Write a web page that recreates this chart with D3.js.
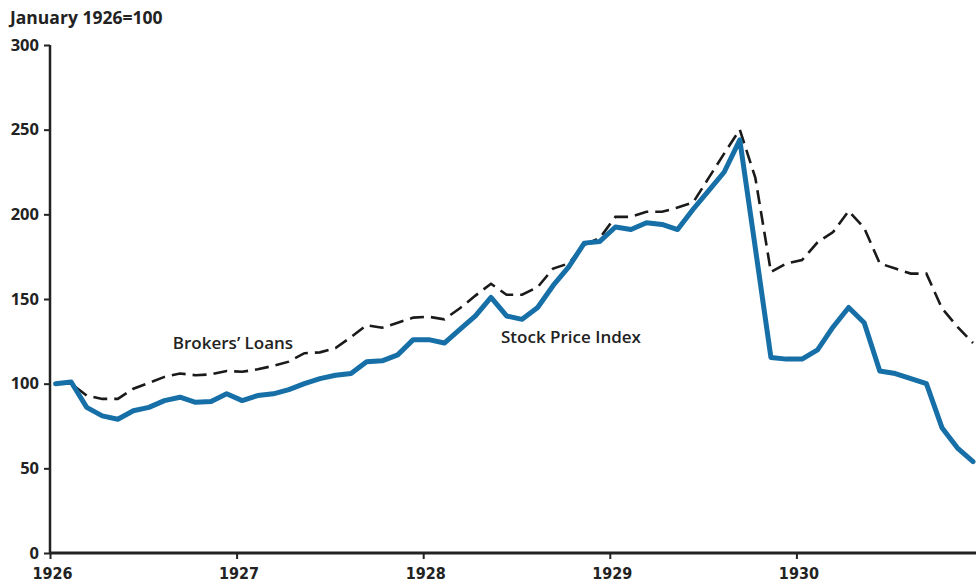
<!DOCTYPE html>
<html>
<head>
<meta charset="utf-8">
<script src="https://cdn.jsdelivr.net/npm/d3@7"></script>
<style>
  body { margin: 0; background: #fff; }
  svg { display: block; }
</style>
</head>
<body>
<svg id="chart"></svg>
<script>
// monthly values, January 1926 = 100, Jan 1926 .. Dec 1930
var stockIndex = [
  100, 101, 86, 81, 79, 84, 86, 90, 92, 89, 89.5, 94,
  90, 93, 94, 96.5, 100, 103, 105, 106, 113, 113.5, 117, 126,
  126, 124, 132, 140, 151, 140, 138, 145, 158, 169, 183, 184,
  192.5, 191, 195, 194, 191, 203, 214, 225, 244, 180, 115.5, 114.5,
  114.5, 120, 133.5, 145, 136, 107.5, 106, 103, 100, 74, 62, 54
]
var brokersLoans = [
  100, 100, 93, 91, 91, 97, 100.5, 104, 106, 105, 105.5, 107.5,
  107, 108.5, 110.5, 113, 118, 118.5, 121, 127.5, 134.5, 133, 136, 139,
  139.5, 138, 144.5, 152, 159, 152.5, 152.5, 157, 168, 171, 182, 186,
  198.5, 198.5, 201.5, 201.5, 204, 207, 221.5, 236, 250, 221.5, 166, 171,
  173, 183.5, 189.5, 202, 192, 171, 168, 165, 165, 144.5, 133.5, 124
]
var yearTicks = [1926, 1927, 1928, 1929, 1930]
var yTicks = [0, 50, 100, 150, 200, 250, 300]

var W = 976, H = 585
var margin = {top: 45, left: 50, bottom: 32}
var h = H - margin.top - margin.bottom

var svg = d3.select('#chart')
  .attr('width', W)
  .attr('height', H)

// time in decimal years, points sit a little inside each month
const x_scale = d3.scaleLinear()
  .domain([1926, 1931])
  .range([margin.left, margin.left + 5 * 186.6])

const y_scale = d3.scaleLinear()
  .domain([0, 300])
  .range([margin.top + h, margin.top])

function t(i) { return 1926 + (i + 0.36) / 12 }

// y axis
var yAxis = svg.append('g')
  .attr('transform', `translate(${margin.left},0)`)
  .call(d3.axisLeft(y_scale).tickValues(yTicks).tickSize(6).tickPadding(5))
yAxis.select('.domain').attr('stroke', '#222').attr('stroke-width', 2.5)
  .attr('d', `M0,${y_scale(300)}V${y_scale(0)}`)
yAxis.selectAll('.tick line').attr('stroke', '#222').attr('stroke-width', 2)
yAxis.selectAll('.tick text')
  .attr('font-family', 'Open Sans')
  .attr('font-weight', 700)
  .attr('font-size', 16.5)
  .attr('fill', '#222')

// x axis
var xAxis = svg.append('g')
  .attr('transform', `translate(0,${y_scale(0)})`)
  .call(d3.axisBottom(x_scale).tickValues(yearTicks).tickFormat(d3.format('d')).tickSize(6).tickPadding(9))
xAxis.select('.domain').attr('stroke', '#222').attr('stroke-width', 3)
  .attr('d', `M${margin.left},0H${W}`)
xAxis.selectAll('.tick line').attr('stroke', '#222').attr('stroke-width', 2)
xAxis.selectAll('.tick text')
  .attr('dx', 2)
  .attr('font-family', 'DejaVu Sans Condensed, DejaVu Sans, sans-serif')
  .attr('font-stretch', 'condensed')
  .attr('font-weight', 'bold')
  .attr('font-size', 16)
  .attr('fill', '#222')

svg.append('text')
  .attr('x', 10)
  .attr('y', 24)
  .attr('font-family', 'Open Sans')
  .attr('font-weight', 700)
  .attr('font-size', 17.5)
  .attr('fill', '#222')
  .text('January 1926=100')

var line = d3.line()
  .x((d, i) => x_scale(t(i)))
  .y(d => y_scale(d))

svg.append('path')
  .datum(brokersLoans)
  .attr('d', line)
  .attr('fill', 'none')
  .attr('stroke', '#1a1a1a')
  .attr('stroke-width', 2.6)
  .attr('stroke-dasharray', '14,7')

svg.append('path')
  .datum(stockIndex)
  .attr('d', line)
  .attr('fill', 'none')
  .attr('stroke', '#166fa6')
  .attr('stroke-width', 5)
  .attr('stroke-linejoin', 'round')
  .attr('stroke-linecap', 'round')

// series labels
svg.append('text')
  .attr('x', 233).attr('y', 349)
  .attr('text-anchor', 'middle')
  .attr('font-family', 'Open Sans')
  .attr('font-weight', 600)
  .attr('font-size', 17)
  .attr('fill', '#222')
  .text('Brokers\u2019 Loans')

svg.append('text')
  .attr('x', 571).attr('y', 343)
  .attr('text-anchor', 'middle')
  .attr('font-family', 'Open Sans')
  .attr('font-weight', 600)
  .attr('font-size', 17)
  .attr('fill', '#222')
  .text('Stock Price Index')
</script>
</body>
</html>
